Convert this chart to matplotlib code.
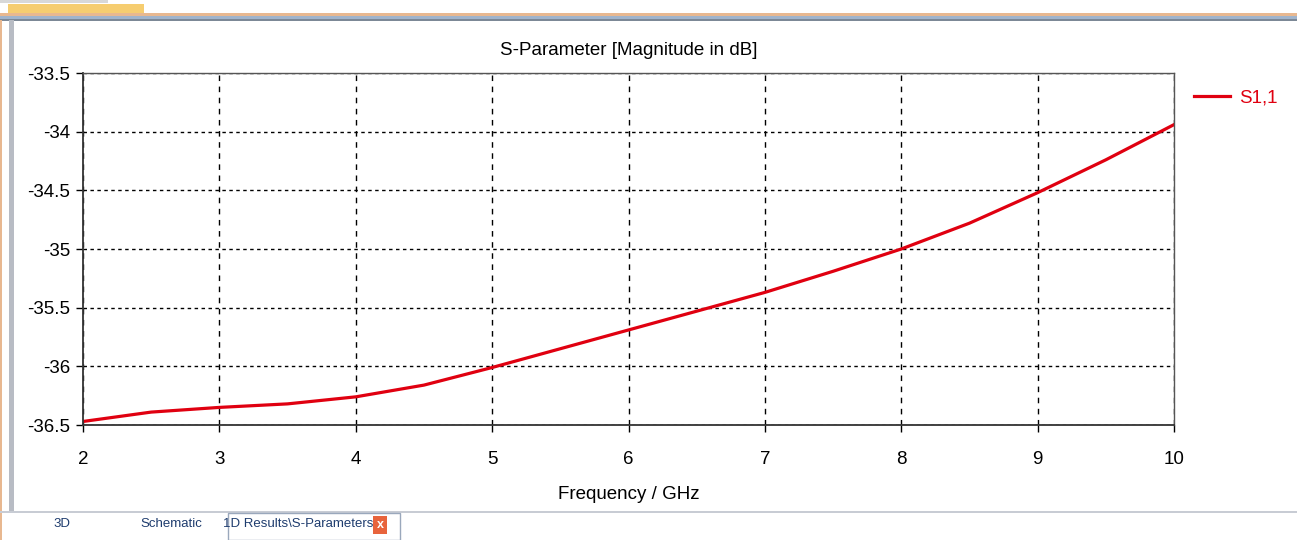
import numpy as np
import matplotlib.pyplot as plt
from matplotlib.patches import Rectangle

plt.rcParams['font.family'] = ['Liberation Sans', 'DejaVu Sans']

# S1,1 magnitude
freq = [2.0, 2.5, 3.0, 3.5, 4.0, 4.5, 5.0, 5.5, 6.0, 6.5, 7.0, 7.5, 8.0, 8.5, 9.0, 9.5, 10.0]
s11 = [-36.47, -36.39, -36.35, -36.32, -36.26, -36.16, -36.01, -35.85, -35.69,
       -35.53, -35.37, -35.19, -35.00, -34.78, -34.52, -34.24, -33.94]
x_ticks = [2, 3, 4, 5, 6, 7, 8, 9, 10]
y_ticks = [-33.5, -34, -34.5, -35, -35.5, -36, -36.5]
tab_names = ['3D', 'Schematic', '1D Results\\S-Parameters']

W, H = 1297, 540
fig = plt.figure(figsize=(W / 100, H / 100), dpi=100)
fig.patch.set_facecolor('white')

# window chrome
def px(x0, y0, w, h, **kw):
    fig.add_artist(Rectangle((x0 / W, 1 - (y0 + h) / H), w / W, h / H,
                             transform=fig.transFigure, **kw))

px(0, 0, 108, 3, color='#d8d8d8', lw=0)
px(8, 4, 136, 11, color='#f6cd70', lw=0)
px(0, 13, W, 3, color='#e8b890', lw=0)
px(0, 16, W, 3, color='#a0b4cc', lw=0)
px(0, 19, W, 2, color='#7c8896', lw=0)
px(9, 20, 5, 492, color='#b8bcc4', lw=0)
px(0, 20, 2, 520, color='#e8b890', lw=0)
px(0, 511, W, 2, color='#c8ccd4', lw=0)
px(228, 513, 172, 27, facecolor='white', edgecolor='#9aa8bc', lw=1)
px(373, 516, 14, 18, color='#e8643c', lw=0)
fig.text(380 / W, 1 - 525 / H, 'x', color='white', fontsize=9, ha='center', va='center',
         fontweight='bold')
for name, xc in zip(tab_names, [62, 171, 298]):
    fig.text(xc / W, 1 - 524 / H, name, fontsize=9.5, color='#1e3c6e', ha='center', va='center')

ax = fig.add_axes([83 / W, 1 - 425 / H, (1174 - 83) / W, (425 - 73) / H])
ax.plot(freq, s11, color='#e00010', lw=2.3, label='S1,1')

ax.set_xlim(2, 10)
ax.set_ylim(-36.5, -33.5)
ax.set_xticks(x_ticks)
ax.set_yticks(y_ticks)
ax.set_xticklabels([str(t) for t in x_ticks])
ax.set_yticklabels(['%g' % t for t in y_ticks])
ax.tick_params(labelsize=13.5, length=5, width=1, direction='out', color='black')
ax.tick_params(axis='x', pad=14)
ax.tick_params(axis='y', pad=4)

ax.xaxis.grid(True, color='black', linestyle=(0, (4, 4)), lw=1)
ax.yaxis.grid(True, color='black', linestyle=(0, (2.5, 2.5)), lw=1)
for side in ['top', 'right']:
    ax.spines[side].set_color('#555555')
    ax.spines[side].set_linewidth(1)
for side in ['left', 'bottom']:
    ax.spines[side].set_color('#333333')
    ax.spines[side].set_linewidth(1.3)

ax.set_title('S-Parameter [Magnitude in dB]', fontsize=13.5, pad=13)
ax.set_xlabel('Frequency / GHz', fontsize=13.5, labelpad=13)

leg = ax.legend(loc='upper left', bbox_to_anchor=(1.008, 0.985), frameon=False,
                fontsize=13.5, handlelength=1.9, handletextpad=0.5, borderaxespad=0.2)
for t in leg.get_texts():
    t.set_color('#e00010')

fig.savefig('out.png', dpi=100)
